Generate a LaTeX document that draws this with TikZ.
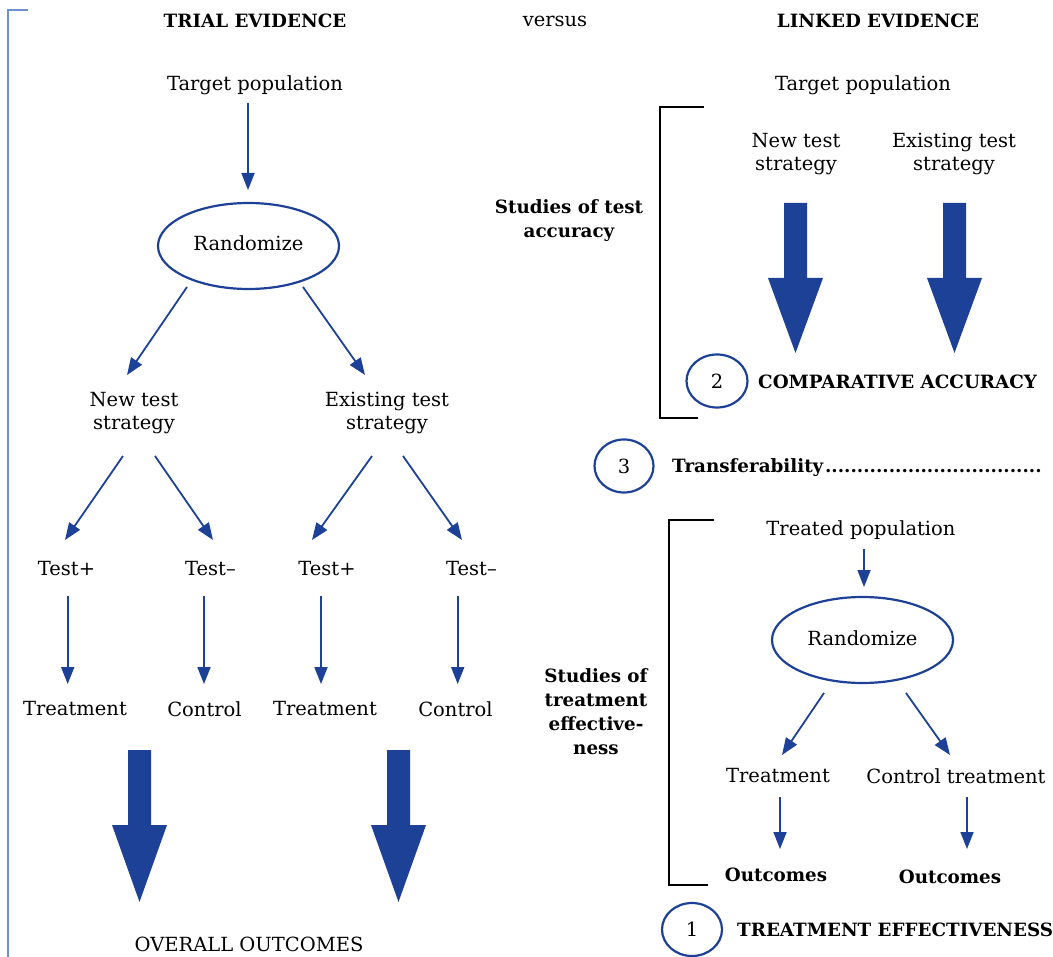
\documentclass[tikz,border=0pt]{standalone}
\usepackage{fontspec}
\setmainfont{DejaVu Serif}
\usetikzlibrary{arrows.meta,shapes.geometric}
\definecolor{ablue}{HTML}{1E4198}
\definecolor{lblue}{HTML}{6F8FCF}
\newcommand{\bigdownarrow}[4]{% x, top, headstart, tip
  \fill[ablue] (#1-11.5,#2) -- (#1+11.5,#2) -- (#1+11.5,#3) -- (#1+27.5,#3) -- (#1,#4) -- (#1-27.5,#3) -- (#1-11.5,#3) -- cycle;}
\begin{document}
\begin{tikzpicture}[x=1pt,y=-1pt,
  txt/.style={font=\fontsize{19.5}{23.5}\selectfont, align=center, inner sep=0pt},
  btxt/.style={font=\fontsize{18.3}{24}\selectfont\bfseries, align=center, inner sep=0pt},
  arr/.style={draw=ablue, line width=1.8pt, -{Triangle[length=17pt,width=13pt]}},
  ell/.style={draw=ablue, line width=2.2pt, ellipse, inner sep=0pt, font=\fontsize{19.5}{23.5}\selectfont},
  circ/.style={draw=ablue, line width=2.2pt, ellipse, inner sep=0pt, minimum width=60pt, minimum height=53pt, font=\fontsize{19.5}{23.5}\selectfont},
  brk/.style={draw=black, line width=2.2pt}
]
\path[use as bounding box] (0,0) rectangle (1053,957);

% left frame
\draw[lblue, line width=2.2pt] (28,10) -- (8,10) -- (8,958);

% headings
\node[btxt] (h1) at (255,21) {TRIAL EVIDENCE};
\node[txt] (vs) at (555,21) {versus};
\node[btxt] (h2) at (878,21) {LINKED EVIDENCE};

% ---------- left: trial evidence
\node[txt] (tp1) at (255,85) {Target population};
\node[ell, minimum width=181pt, minimum height=86pt] (rand1) at (248.5,246) {};
\node[txt] (rl1) at (248.5,243) {Randomize};
\node[txt] (nts1) at (134,413) {New test\\strategy};
\node[txt] (ets1) at (387,413) {Existing test\\strategy};
\node[txt] (tpa) at (66.5,569) {Test+};
\node[txt] (tma) at (210.5,569) {Test–};
\node[txt] (tpb) at (327,569) {Test+};
\node[txt] (tmb) at (471.5,569) {Test–};
\node[txt] (trA) at (75,709) {Treatment};
\node[txt] (coA) at (204.5,709) {Control};
\node[txt] (trB) at (325,709) {Treatment};
\node[txt] (coB) at (455.5,709) {Control};
\node[txt] (ovo) at (249,944) {OVERALL OUTCOMES};

\draw[arr] ([shift={(-7,18)}]tp1.center) -- ([shift={(-0.5,-56)}]rand1.center);
\draw[arr] ([shift={(-61.5,41)}]rand1.center) -- ([shift={(-7,-38)}]nts1.center);
\draw[arr] ([shift={(54.5,41)}]rand1.center) -- ([shift={(-22,-38)}]ets1.center);
\draw[arr] ([shift={(-11,43)}]nts1.center) -- ([shift={(-1.5,-29)}]tpa.center);
\draw[arr] ([shift={(21,43)}]nts1.center) -- ([shift={(2.5,-29)}]tma.center);
\draw[arr] ([shift={(-15,43)}]ets1.center) -- ([shift={(-15,-29)}]tpb.center);
\draw[arr] ([shift={(16,43)}]ets1.center) -- ([shift={(-9.5,-29)}]tmb.center);
\draw[arr] ([shift={(1.2,27)}]tpa.center) -- ([shift={(-7.3,-25)}]trA.center);
\draw[arr] ([shift={(-6.5,27)}]tma.center) -- ([shift={(-0.5,-25)}]coA.center);
\draw[arr] ([shift={(-6,27)}]tpb.center) -- ([shift={(-4,-25)}]trB.center);
\draw[arr] ([shift={(-13.8,27)}]tmb.center) -- ([shift={(2.2,-25)}]coB.center);

\bigdownarrow{139.5}{750}{825}{902}
\bigdownarrow{398.5}{750}{825}{902}

% ---------- right: linked evidence
\node[txt] (tp2) at (863,85) {Target population};
\node[txt] (nts2) at (796,154) {New test\\strategy};
\node[txt] (ets2) at (954,154) {Existing test\\strategy};
\node[btxt] (sta) at (569,221) {Studies of test\\accuracy};
\draw[brk] (704,107) -- (660,107) -- (660,418) -- (698,418);
\bigdownarrow{795.5}{203}{278}{353}
\bigdownarrow{954.5}{203}{278}{353}
\node[circ, minimum width=61pt] (c2) at (717,381) {2};
\node[btxt, anchor=west] (ca) at (758,382) {COMPARATIVE ACCURACY};

\node[circ, minimum width=59pt] (c3) at (624,466) {3};
\node[btxt, anchor=west] (trf) at (672,468) {\makebox[373pt][l]{Transferability\leaders\hbox{.}\hfill}};

\node[txt] (tp3) at (861,530) {Treated population};
\draw[brk] (714,520) -- (669,520) -- (669,885) -- (708,885);
\node[ell, minimum width=181pt, minimum height=86pt] (rand2) at (862.5,640) {};
\node[txt] (rl2) at (862.5,638) {Randomize};
\node[btxt] (ste) at (596,712) {Studies of\\treatment\\effective-\\ness};
\node[txt] (trC) at (778,776) {Treatment};
\node[txt] (coC) at (956,776) {Control treatment};
\node[btxt] (ouA) at (776,875) {Outcomes};
\node[btxt] (ouB) at (950,877) {Outcomes};
\node[circ, minimum width=60pt] (c1) at (692,929.5) {1};
\node[btxt, anchor=west] (te) at (737,930) {TREATMENT EFFECTIVENESS};

\draw[arr] ([shift={(3,19)}]tp3.center) -- ([shift={(1.5,-53)}]rand2.center);
\draw[arr] ([shift={(-38.5,53)}]rand2.center) -- ([shift={(4,-21)}]trC.center);
\draw[arr] ([shift={(43.5,53)}]rand2.center) -- ([shift={(-6,-21)}]coC.center);
\draw[arr] ([shift={(2,21)}]trC.center) -- ([shift={(4,-26)}]ouA.center);
\draw[arr] ([shift={(11,21)}]coC.center) -- ([shift={(17,-28)}]ouB.center);
\end{tikzpicture}
\end{document}
